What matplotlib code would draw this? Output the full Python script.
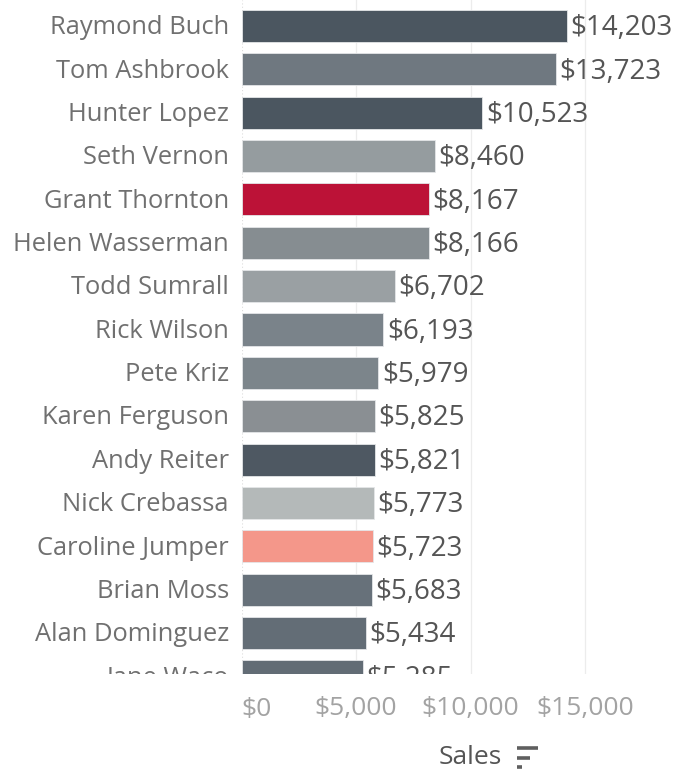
import matplotlib
matplotlib.use("Agg")
import matplotlib.pyplot as plt
from matplotlib.transforms import Bbox, TransformedBbox, blended_transform_factory
from matplotlib.lines import Line2D

plt.rcParams['font.family'] = ['Open Sans', 'DejaVu Sans']

names = ["Raymond Buch", "Tom Ashbrook", "Hunter Lopez", "Seth Vernon", "Grant Thornton",
         "Helen Wasserman", "Todd Sumrall", "Rick Wilson", "Pete Kriz", "Karen Ferguson",
         "Andy Reiter", "Nick Crebassa", "Caroline Jumper", "Brian Moss", "Alan Dominguez",
         "Jane Waco"]
sales = [14203, 13723, 10523, 8460, 8167, 8166, 6702, 6193, 5979, 5825,
         5821, 5773, 5723, 5683, 5434, 5285]
colors = ["#4b5660", "#6f7880", "#4b5660", "#959c9f", "#bc1237", "#868d91", "#9aa0a3",
          "#7a838a", "#7c858b", "#8a8f93", "#4e5862", "#b4b9b9", "#f4978a", "#67717a",
          "#636d76", "#626c75"]
xticks = [0, 5000, 10000, 15000]

W, H = 678, 773
fig = plt.figure(figsize=(W / 100, H / 100), dpi=100)
ax_left, ax_right, ax_top, ax_bottom = 241.5, 678, 0, 674
ax = fig.add_axes([ax_left / W, 1 - ax_bottom / H, (ax_right - ax_left) / W, (ax_bottom - ax_top) / H])

px_per_unit = 114.5 / 5000
ax.set_xlim(0, (ax_right - ax_left) / px_per_unit)
row_px = 43.36
ax.set_ylim((ax_bottom - 26) / row_px, -26 / row_px)

ypos = list(range(len(names)))
ax.barh(ypos, sales, height=0.74, color=colors, edgecolor="#e4e6e8", linewidth=0.6, zorder=2)

for x in xticks[1:]:
    ax.axvline(x, color="#ececec", lw=0.9, zorder=0)
ax.axvline(0, color="#dddddd", lw=0.8, ls=(0, (1, 2)), zorder=0)

for s in ax.spines.values():
    s.set_visible(False)
ax.set_xticks([])
ax.set_yticks([])

# clip everything in the row area to the bottom of the plot
clip = TransformedBbox(Bbox([[0, 1 - ax_bottom / H], [1, 1]]), fig.transFigure)
name_tr = blended_transform_factory(fig.transFigure, ax.transData)
for y, n, v in zip(ypos, names, sales):
    t = ax.text(229 / W, y - 0.03, n, transform=name_tr, ha="right", va="center_baseline",
                fontsize=18.4, color="#707070", clip_on=True)
    t.set_clip_box(clip)
    t2 = ax.annotate(f"${v:,}", (v, y - 0.03), xytext=(2.5, 0), textcoords="offset points",
                     ha="left", va="center_baseline", fontsize=20, color="#555555",
                     annotation_clip=False)
    t2.set_clip_on(True)
    t2.set_clip_box(clip)

# x tick labels
tick_tr = blended_transform_factory(ax.transData, fig.transFigure)
for x in xticks:
    ax.text(x, 1 - 706 / H, f"${x:,}", transform=tick_tr,
            ha="left" if x == 0 else "center", va="center_baseline",
            fontsize=19, color="#a3a3a3", clip_on=False)

# axis title with sort indicator
fig.text(470 / W, 1 - 757 / H, "Sales", ha="center", va="center", fontsize=19, color="#555555")
for i, (x0, x1) in enumerate([(517, 538), (517, 530), (517, 522)]):
    yy = 1 - (748 + i * 9.5) / H
    fig.add_artist(Line2D([x0 / W, x1 / W], [yy, yy], transform=fig.transFigure,
                          color="#5f5f5f", lw=2.6, solid_capstyle="butt"))

fig.savefig("out.png", dpi=100, facecolor="white")
